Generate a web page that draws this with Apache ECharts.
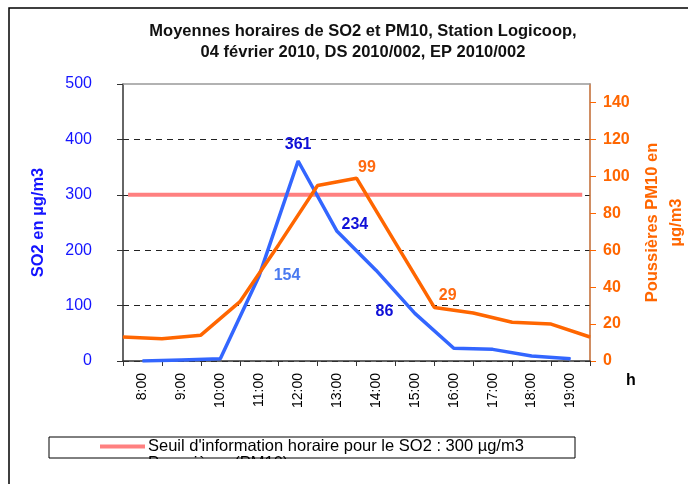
<!DOCTYPE html>
<html>
<head>
<meta charset="utf-8">
<title>SO2 et PM10 - Station Logicoop</title>
<script src="https://cdn.jsdelivr.net/npm/echarts@6/dist/echarts.min.js"></script>
<style>
    html, body { margin: 0; padding: 0; background: #fff; }
    #chart { width: 688px; height: 484px; }
</style>
</head>
<body>
<div id="chart"></div>
<script>
// données
var hours = ['8:00', '9:00', '10:00', '11:00', '12:00', '13:00', '14:00', '15:00', '16:00', '17:00', '18:00', '19:00'];
var so2 = [0, 2, 4, 154, 361, 234, 164, 86, 23, 21, 9, 4];           // µg/m3, axe gauche
var pm10 = [13, 12, 14, 32, 63, 95, 99, 64, 29, 26, 21, 20, 13];     // µg/m3, axe droit (aux graduations)
var seuilSo2 = 300;
var seuilSpan = [0.13, 11.8];                                        // étendue du trait de seuil
var leftTicks = [0, 500, 100];
var rightTicks = [0, 150, 20];

var FONT = 'Liberation Sans, Arial, sans-serif';
var BLUE = '#3366ff', ORANGE = '#ff6600', PINK = '#ff8080';
var SEUIL_NAME = "Seuil d'information horaire pour le SO2 : 300 µg/m3";

// étiquettes affichées sur certains points
var so2Labels = {
    3: {position: 'right', distance: 14, color: '#4a7af0'},
    4: {position: 'top', distance: 8, color: '#1010d8'},
    5: {position: 'right', distance: 4, offset: [0, -7], color: '#1010d8'},
    7: {position: 'left', distance: 21, offset: [0, -2], color: '#1010d8'}
};
var pm10Labels = {
    6: {position: 'right', distance: 1, offset: [0, -11], color: '#ff6a10'},
    8: {position: 'right', distance: 4, offset: [0, -12], color: '#ff6a10'}
};

function withLabels(values, labels, useIndex){
    return values.map(function(v, i){
        var item = {value: useIndex ? [i, v] : v};
        if(labels[i]){
            var l = labels[i];
            item.label = {
                show: true,
                position: l.position,
                distance: l.distance,
                offset: l.offset || [0, 0],
                color: l.color,
                fontFamily: FONT,
                fontSize: 16,
                fontWeight: 'bold'
            };
        }
        return item;
    });
}

var chart = echarts.init(document.getElementById('chart'));
var option = {
    animation: false,
    backgroundColor: '#fff',
    title: {
        text: 'Moyennes horaires de SO2 et PM10, Station Logicoop,\n04 février 2010, DS 2010/002, EP 2010/002',
        left: 363,
        textAlign: 'center',
        top: 21,
        padding: 0,
        textStyle: {fontFamily: FONT, fontSize: 16.5, fontWeight: 'bold', color: '#111', lineHeight: 21}
    },
    legend: {
        left: 100,
        top: 438,
        padding: 0,
        icon: 'rect',
        itemWidth: 45,
        itemHeight: 4,
        data: [SEUIL_NAME],
        textStyle: {fontFamily: FONT, fontSize: 16.5, color: '#000', padding: [0, 0, 0, -2]}
    },
    grid: {left: 123, right: 98, top: 84, bottom: 123, outerBoundsMode: 'none'},
    xAxis: [
        {
            type: 'category',
            data: hours,
            boundaryGap: true,
            name: 'h',
            nameLocation: 'end',
            nameGap: 36,
            nameTextStyle: {fontFamily: FONT, fontSize: 16, fontWeight: 'bold', color: '#000', verticalAlign: 'top', lineHeight: 40},
            axisLine: {lineStyle: {color: '#333', width: 1.5}},
            axisTick: {show: true, length: 5, lineStyle: {color: '#333'}},
            axisLabel: {rotate: 90, margin: 12, interval: 0, fontFamily: FONT, fontSize: 14, color: '#000'},
            splitLine: {show: false}
        },
        {
            type: 'value',
            min: 0,
            max: hours.length,
            position: 'top',
            axisLine: {show: true, onZero: false, lineStyle: {color: '#999', width: 1.5}},
            axisTick: {show: false},
            axisLabel: {show: false},
            splitLine: {show: false}
        }
    ],
    yAxis: [
        {
            type: 'value',
            min: leftTicks[0],
            max: leftTicks[1],
            interval: leftTicks[2],
            name: 'SO2 en µg/m3',
            nameLocation: 'middle',
            nameRotate: 90,
            nameGap: 76,
            nameTextStyle: {fontFamily: FONT, fontSize: 16.5, fontWeight: 'bold', color: '#1414ff'},
            axisLine: {show: true, lineStyle: {color: '#333', width: 1.5}},
            axisTick: {show: true, length: 6, lineStyle: {color: '#333'}},
            axisLabel: {margin: 31, fontFamily: FONT, fontSize: 16, color: '#1414ff'},
            splitLine: {
                show: true,
                lineStyle: {type: [6, 5], width: 1, color: ['#222', '#222', '#222', '#222', '#222', 'rgba(0,0,0,0)']}
            }
        },
        {
            type: 'value',
            min: rightTicks[0],
            max: rightTicks[1],
            interval: rightTicks[2],
            position: 'right',
            name: 'Poussières PM10 en\nµg/m3',
            nameLocation: 'middle',
            nameRotate: 90,
            nameGap: 50,
            nameTextStyle: {fontFamily: FONT, fontSize: 16.5, fontWeight: 'bold', color: ORANGE, lineHeight: 24},
            axisLine: {show: true, lineStyle: {color: '#c0692f', width: 1.5}},
            axisTick: {show: true, length: 6, lineStyle: {color: ORANGE}},
            axisLabel: {margin: 13, showMaxLabel: false, fontFamily: FONT, fontSize: 16, fontWeight: 'bold', color: ORANGE},
            splitLine: {show: false}
        }
    ],
    series: [
        {
            name: 'SO2',
            type: 'line',
            xAxisIndex: 0,
            yAxisIndex: 0,
            symbol: 'circle',
            symbolSize: 1,
            itemStyle: {color: BLUE},
            lineStyle: {color: BLUE, width: 3.5},
            data: withLabels(so2, so2Labels, false),
            z: 3
        },
        {
            name: 'Poussières (PM10)',
            type: 'line',
            xAxisIndex: 1,
            yAxisIndex: 1,
            symbol: 'circle',
            symbolSize: 1,
            itemStyle: {color: ORANGE},
            lineStyle: {color: ORANGE, width: 3.5},
            data: withLabels(pm10, pm10Labels, true),
            z: 4
        },
        {
            name: SEUIL_NAME,
            type: 'line',
            xAxisIndex: 1,
            yAxisIndex: 0,
            symbol: 'none',
            itemStyle: {color: PINK},
            lineStyle: {color: PINK, width: 4},
            data: seuilSpan.map(function(x){ return [x, seuilSo2]; }),
            z: 2
        }
    ],
    graphic: [
        // cadre extérieur
        {type: 'rect', shape: {x: 9, y: 8, width: 700, height: 500}, style: {fill: 'none', stroke: '#000', lineWidth: 1.5}, z: 1},
        // deuxième entrée de légende, coupée par le cadre
        {type: 'text', left: 148, top: 455, style: {text: 'Poussières (PM10)', font: '16.5px ' + FONT, fill: '#000'}, z: 50},
        {type: 'rect', shape: {x: 40, y: 459, width: 560, height: 24}, style: {fill: '#fff'}, z: 51},
        // cadre de la légende
        {type: 'rect', shape: {x: 49, y: 437, width: 526, height: 21}, style: {fill: 'none', stroke: '#000', lineWidth: 1}, z: 52}
    ]
};
chart.setOption(option);
</script>
</body>
</html>
